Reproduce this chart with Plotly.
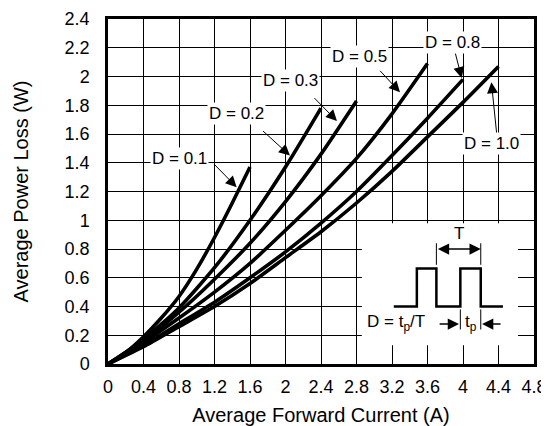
import plotly.graph_objects as go

# ---- data ----
x_d01 = [0, 0.2, 0.4, 0.6, 0.8, 1.0, 1.2, 1.4, 1.6]
y_d01 = [0, 0.08, 0.19, 0.32, 0.47, 0.66, 0.88, 1.12, 1.37]

x_d02 = [0, 0.4, 0.8, 1.2, 1.6, 2.0, 2.4]
y_d02 = [0, 0.17, 0.39, 0.67, 1.00, 1.37, 1.78]

x_d03 = [0, 0.4, 0.8, 1.2, 1.6, 2.0, 2.4, 2.8]
y_d03 = [0, 0.16, 0.36, 0.59, 0.84, 1.13, 1.46, 1.83]

x_d05 = [0, 0.4, 0.8, 1.2, 1.6, 2.0, 2.4, 2.8, 3.2, 3.6]
y_d05 = [0, 0.15, 0.32, 0.50, 0.70, 0.93, 1.17, 1.43, 1.74, 2.09]

x_d08 = [0, 0.4, 0.8, 1.2, 1.6, 2.0, 2.4, 2.8, 3.2, 3.6, 4.0]
y_d08 = [0, 0.13, 0.28, 0.43, 0.60, 0.78, 0.98, 1.20, 1.45, 1.71, 1.98]

x_d10 = [0, 0.4, 0.8, 1.2, 1.6, 2.0, 2.4, 2.8, 3.2, 3.6, 4.0, 4.4]
y_d10 = [0, 0.12, 0.26, 0.40, 0.56, 0.74, 0.92, 1.12, 1.34, 1.58, 1.82, 2.07]

series_x = [x_d01, x_d02, x_d03, x_d05, x_d08, x_d10]
series_y = [y_d01, y_d02, y_d03, y_d05, y_d08, y_d10]

labels = ["D = 0.1", "D = 0.2", "D = 0.3", "D = 0.5", "D = 0.8", "D = 1.0"]
label_x = [0.80, 1.45, 2.06, 2.83, 3.88, 4.32]
label_y = [1.43, 1.74, 1.975, 2.14, 2.24, 1.535]
arrow_tail_x = [1.18, 1.73, 2.31, 3.05, 3.91, 4.38]
arrow_tail_y = [1.40, 1.63, 1.86, 2.05, 2.17, 1.60]
arrow_tip_x = [1.45, 2.05, 2.58, 3.29, 3.985, 4.32]
arrow_tip_y = [1.23, 1.45, 1.69, 1.89, 1.99, 1.96]

x_ticks = [0, 0.4, 0.8, 1.2, 1.6, 2, 2.4, 2.8, 3.2, 3.6, 4, 4.4, 4.8]
y_ticks = [0, 0.2, 0.4, 0.6, 0.8, 1, 1.2, 1.4, 1.6, 1.8, 2, 2.2, 2.4]

# inset (duty-cycle sketch)
inset_box = [2.86, 4.62, 0.13, 0.98]
wave_x = [3.22, 3.48, 3.48, 3.70, 3.70, 3.97, 3.97, 4.20, 4.20, 4.45]
wave_y = [0.40, 0.40, 0.665, 0.665, 0.40, 0.40, 0.665, 0.665, 0.40, 0.40]

FONT = "Liberation Sans, Arial, Helvetica, sans-serif"

fig = go.Figure()
for xs, ys in zip(series_x, series_y):
    fig.add_trace(go.Scatter(x=xs, y=ys, mode="lines",
                             line=dict(color="black", width=3.6, shape="spline", smoothing=0.6),
                             showlegend=False, hoverinfo="skip"))

shapes = []
bx0, bx1, by0, by1 = inset_box
shapes.append(dict(type="rect", xref="x", yref="y", x0=bx0, x1=bx1, y0=by0, y1=by1,
                   fillcolor="white", line=dict(width=0), layer="above"))
path = "M " + " L ".join(f"{a},{b}" for a, b in zip(wave_x, wave_y))
shapes.append(dict(type="path", xref="x", yref="y", path=path,
                   line=dict(color="black", width=2.5), layer="above"))
# dimension ticks
for xv, ya, yb in [(3.70, 0.69, 0.84), (4.20, 0.69, 0.84), (3.97, 0.24, 0.38), (4.20, 0.24, 0.38)]:
    shapes.append(dict(type="line", xref="x", yref="y", x0=xv, x1=xv, y0=ya, y1=yb,
                       line=dict(color="black", width=1), layer="above"))

annotations = []
for t, lx, ly in zip(labels, label_x, label_y):
    annotations.append(dict(x=lx, y=ly, xref="x", yref="y", text=t, showarrow=False,
                            bgcolor="white", borderpad=1,
                            font=dict(family=FONT, size=17, color="black")))
for tx, ty, hx, hy in zip(arrow_tail_x, arrow_tail_y, arrow_tip_x, arrow_tip_y):
    annotations.append(dict(x=hx, y=hy, ax=tx, ay=ty, xref="x", yref="y", axref="x", ayref="y",
                            text="", showarrow=True, arrowhead=2, arrowsize=2.2,
                            arrowwidth=1, arrowcolor="black"))
# inset arrows and text
annotations.append(dict(x=4.20, y=0.80, ax=3.70, ay=0.80, xref="x", yref="y", axref="x", ayref="y",
                        text="", showarrow=True, arrowhead=2, arrowside="end+start",
                        arrowsize=1.5, arrowwidth=1.5, arrowcolor="black"))
annotations.append(dict(x=3.955, y=0.278, ax=3.72, ay=0.278, xref="x", yref="y", axref="x", ayref="y",
                        text="", showarrow=True, arrowhead=2, arrowsize=1.5, arrowwidth=1.5,
                        arrowcolor="black"))
annotations.append(dict(x=4.215, y=0.278, ax=4.44, ay=0.278, xref="x", yref="y", axref="x", ayref="y",
                        text="", showarrow=True, arrowhead=2, arrowsize=1.5, arrowwidth=1.5,
                        arrowcolor="black"))
annotations.append(dict(x=3.95, y=0.91, xref="x", yref="y", text="T", showarrow=False,
                        font=dict(family=FONT, size=17, color="black")))
annotations.append(dict(x=4.09, y=0.285, xref="x", yref="y", text="t<sub>p</sub>", showarrow=False,
                        font=dict(family=FONT, size=17, color="black")))
annotations.append(dict(x=3.25, y=0.285, xref="x", yref="y", text="D = t<sub>p</sub>/T", showarrow=False,
                        font=dict(family=FONT, size=17, color="black")))

axis_common = dict(showgrid=True, gridcolor="black", gridwidth=1.2, showline=True,
                   linecolor="black", linewidth=2.5, mirror=True, zeroline=False,
                   automargin=False,
                   ticks="", tickfont=dict(family=FONT, size=18, color="black"))

# page body adds an 8 px offset; figure is sized to compensate
fig.update_layout(
    width=541, height=418,
    margin=dict(l=100, r=15, t=11, b=62),
    paper_bgcolor="white", plot_bgcolor="white",
    font=dict(family=FONT, color="black"),
    xaxis=dict(range=[0, 4.8], tickmode="array", tickvals=x_ticks,
               ticktext=[f"{v:g}" for v in x_ticks], ticklabelstandoff=5,
               title=dict(text="Average Forward Current (A)", font=dict(family=FONT, size=20),
                          standoff=14), **axis_common),
    yaxis=dict(range=[0, 2.4], tickmode="array", tickvals=y_ticks,
               ticktext=[f"{v:g}" for v in y_ticks], ticklabelstandoff=12,
               title=dict(text="Average Power Loss (W)", font=dict(family=FONT, size=20),
                          standoff=31), **axis_common),
    shapes=shapes, annotations=annotations,
)

fig.write_html("out.html")
